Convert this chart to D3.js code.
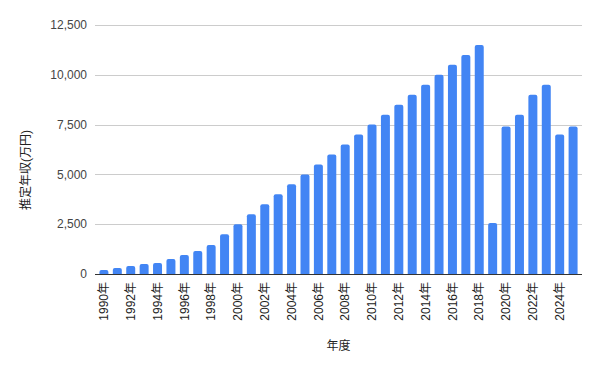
<!DOCTYPE html>
<html>
<head>
<meta charset="utf-8">
<script src="https://cdn.jsdelivr.net/npm/d3@7"></script>
<style>
  body { margin: 0; background: #fff; }
  text { font-family: "Liberation Sans", Arial, "Noto Sans CJK JP", sans-serif; }
</style>
</head>
<body>
<div id="chart"></div>
<script>
// data
var years = ["1990年","1991年","1992年","1993年","1994年","1995年","1996年","1997年","1998年","1999年",
             "2000年","2001年","2002年","2003年","2004年","2005年","2006年","2007年","2008年","2009年",
             "2010年","2011年","2012年","2013年","2014年","2015年","2016年","2017年","2018年","2019年",
             "2020年","2021年","2022年","2023年","2024年","2025年"];
var income = [200, 300, 400, 500, 550, 750, 950, 1150, 1450, 2000,
              2500, 3000, 3500, 4000, 4500, 5000, 5500, 6000, 6500, 7000,
              7500, 8000, 8500, 9000, 9500, 10000, 10500, 11000, 11500, 2560,
              7400, 8000, 9000, 9500, 7000, 7400];
var yTicks = [0, 2500, 5000, 7500, 10000, 12500];

var width = 601, height = 371;
var margin = {top: 25, right: 19, bottom: 97, left: 95};
var w = width - margin.left - margin.right,
    h = height - margin.top - margin.bottom;

var svg = d3.select("#chart").append("svg")
    .attr("width", width)
    .attr("height", height);

var g = svg.append("g")
    .attr("transform", "translate(" + margin.left + "," + margin.top + ")");

var x = d3.scaleBand()
    .domain(years)
    .range([0, w])
    .paddingInner(0.33)
    .paddingOuter(0.33);

var y = d3.scaleLinear()
    .domain([0, 12500])
    .range([h, 0]);

// gridlines
g.selectAll(".grid")
    .data(yTicks.filter(function(d) { return d > 0; }))
  .enter().append("line")
    .attr("class", "grid")
    .attr("x1", 0)
    .attr("x2", w)
    .attr("y1", function(d) { return Math.round(y(d)) + 0.5; })
    .attr("y2", function(d) { return Math.round(y(d)) + 0.5; })
    .style("stroke", "#cccccc")
    .style("stroke-width", 1);

// y tick labels
g.selectAll(".ylab")
    .data(yTicks)
  .enter().append("text")
    .attr("class", "ylab")
    .attr("x", -8)
    .attr("y", function(d) { return y(d); })
    .attr("dy", "0.35em")
    .style("text-anchor", "end")
    .style("font-size", "12px")
    .style("fill", "#444")
    .text(function(d) { return d3.format(",")(d); });

// bars with slightly rounded tops
function barPath(d, i) {
  var x0 = x(years[i]), bw = x.bandwidth(),
      y0 = y(d), yb = y(0), r = Math.min(2, (yb - y0) / 2);
  return "M" + x0 + "," + yb +
         "V" + (y0 + r) +
         "Q" + x0 + "," + y0 + " " + (x0 + r) + "," + y0 +
         "H" + (x0 + bw - r) +
         "Q" + (x0 + bw) + "," + y0 + " " + (x0 + bw) + "," + (y0 + r) +
         "V" + yb + "Z";
}

g.selectAll(".bar")
    .data(income)
  .enter().append("path")
    .attr("class", "bar")
    .attr("d", barPath)
    .style("fill", "#4285f4");

// baseline
g.append("line")
    .attr("x1", 0)
    .attr("x2", w)
    .attr("y1", Math.round(y(0)) + 0.5)
    .attr("y2", Math.round(y(0)) + 0.5)
    .style("stroke", "#333")
    .style("stroke-width", 1);

// x tick labels, every other year
g.selectAll(".xlab")
    .data(years.filter(function(d, i) { return i % 2 === 0; }))
  .enter().append("text")
    .attr("class", "xlab")
    .attr("transform", function(d) {
      return "translate(" + (x(d) + x.bandwidth() / 2) + "," + (h + 8) + ") rotate(-90)";
    })
    .attr("dy", "0.35em")
    .style("text-anchor", "end")
    .style("font-size", "12px")
    .style("fill", "#222")
    .text(function(d) { return d; });

// axis titles
svg.append("text")
    .attr("x", margin.left + w / 2)
    .attr("y", 350)
    .style("text-anchor", "middle")
    .style("font-size", "12px")
    .style("fill", "#222")
    .text("年度");

svg.append("text")
    .attr("transform", "translate(30,170) rotate(-90)")
    .style("text-anchor", "middle")
    .style("font-size", "12px")
    .style("fill", "#222")
    .text("推定年収(万円)");
</script>
</body>
</html>
